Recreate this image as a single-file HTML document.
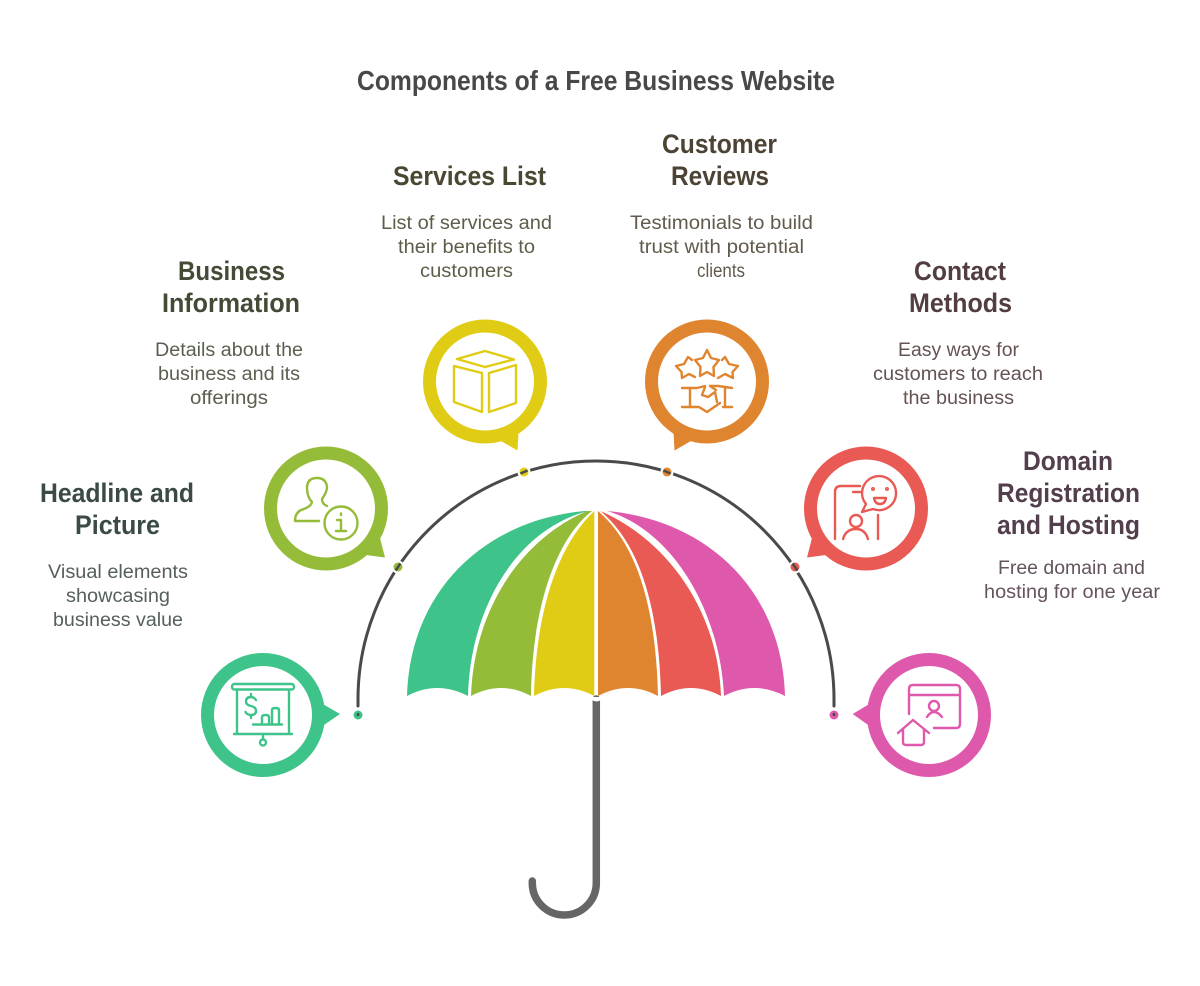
<!DOCTYPE html>
<html><head><meta charset="utf-8"><style>
html,body{margin:0;padding:0;background:#fff}
svg{display:block}
text{font-family:"Liberation Sans",sans-serif;text-anchor:middle}
.h{font-size:26.500px;font-weight:700}
.b{font-size:19px}
.i{fill:none;stroke-width:2.400;stroke-linecap:round;stroke-linejoin:round}
</style></head><body>
<svg width="1200" height="986" viewBox="0 0 1200 986" xmlns="http://www.w3.org/2000/svg">
<rect width="1200" height="986" fill="#fff"/>
<text x="596" y="90" font-size="27.500" font-weight="700" fill="#484848" textLength="478" lengthAdjust="spacingAndGlyphs">Components of a Free Business Website</text>

<g class="h" fill="#3b4a44">
<text x="117" y="502" textLength="154" lengthAdjust="spacingAndGlyphs">Headline and</text>
<text x="117.500" y="534" textLength="85" lengthAdjust="spacingAndGlyphs">Picture</text></g>
<g class="b" fill="#56605b">
<text x="118" y="578" textLength="140" lengthAdjust="spacingAndGlyphs">Visual elements</text>
<text x="118" y="602" textLength="104" lengthAdjust="spacingAndGlyphs">showcasing</text>
<text x="118" y="626" textLength="130" lengthAdjust="spacingAndGlyphs">business value</text></g>

<g class="h" fill="#434a36">
<text x="231.500" y="280" textLength="107" lengthAdjust="spacingAndGlyphs">Business</text>
<text x="231" y="312" textLength="138" lengthAdjust="spacingAndGlyphs">Information</text></g>
<g class="b" fill="#5a6050">
<text x="229" y="356" textLength="148" lengthAdjust="spacingAndGlyphs">Details about the</text>
<text x="229" y="380" textLength="142" lengthAdjust="spacingAndGlyphs">business and its</text>
<text x="229" y="404" textLength="78" lengthAdjust="spacingAndGlyphs">offerings</text></g>

<g class="h" fill="#4a4832">
<text x="469.500" y="185" textLength="153" lengthAdjust="spacingAndGlyphs">Services List</text></g>
<g class="b" fill="#5f5d4a">
<text x="466.500" y="229" textLength="171" lengthAdjust="spacingAndGlyphs">List of services and</text>
<text x="466.500" y="253" textLength="137" lengthAdjust="spacingAndGlyphs">their benefits to</text>
<text x="466.500" y="277" textLength="93" lengthAdjust="spacingAndGlyphs">customers</text></g>

<g class="h" fill="#4d4334">
<text x="719.500" y="153" textLength="115" lengthAdjust="spacingAndGlyphs">Customer</text>
<text x="720" y="185" textLength="98" lengthAdjust="spacingAndGlyphs">Reviews</text></g>
<g class="b" fill="#625a4c">
<text x="721.500" y="229" textLength="183" lengthAdjust="spacingAndGlyphs">Testimonials to build</text>
<text x="721.500" y="253" textLength="165" lengthAdjust="spacingAndGlyphs">trust with potential</text>
<text x="721" y="277" textLength="48" lengthAdjust="spacingAndGlyphs">clients</text></g>

<g class="h" fill="#523e3e">
<text x="960" y="280" textLength="92" lengthAdjust="spacingAndGlyphs">Contact</text>
<text x="960.500" y="312" textLength="103" lengthAdjust="spacingAndGlyphs">Methods</text></g>
<g class="b" fill="#655353">
<text x="958.500" y="356" textLength="121" lengthAdjust="spacingAndGlyphs">Easy ways for</text>
<text x="958" y="380" textLength="170" lengthAdjust="spacingAndGlyphs">customers to reach</text>
<text x="958.500" y="404" textLength="111" lengthAdjust="spacingAndGlyphs">the business</text></g>

<g class="h" fill="#523e4c">
<text x="1068" y="470" textLength="90" lengthAdjust="spacingAndGlyphs">Domain</text>
<text x="1068.500" y="502" textLength="143" lengthAdjust="spacingAndGlyphs">Registration</text>
<text x="1068.500" y="534" textLength="143" lengthAdjust="spacingAndGlyphs">and Hosting</text></g>
<g class="b" fill="#65535f">
<text x="1071.500" y="574" textLength="147" lengthAdjust="spacingAndGlyphs">Free domain and</text>
<text x="1072" y="598" textLength="176" lengthAdjust="spacingAndGlyphs">hosting for one year</text></g>

<!-- handle -->
<path d="M596.300 699V883A32 32 0 0 1 532.300 883V881" fill="none" stroke="#666" stroke-width="7.500" stroke-linecap="round"/>
<path d="M592 697h9v3q-4.500 3-9 0z" fill="#fff"/>

<!-- canopy -->
<path d="M407 696C410 590 485 520 585 511L588 511C515 530 470 610 468 696Q437 680 407 696Z" fill="#3ec48a"/>
<path d="M471 696C474 610 520 540 587 511L592 511C555 540 532 610 531 696Q501 680 471 696Z" fill="#94bc39"/>
<path d="M534 696C536 610 558 545 594.300 511V696Q564 680 534 696Z" fill="#e0cc15"/>
<path d="M598 511C638 545 656 610 658 696Q628 680 598 696Z" fill="#e0852f"/>
<path d="M600.500 511C667 540 718 610 721 696Q691 680 661 696C659 610 641 545 600.500 511Z" fill="#e85a53"/>
<path d="M607 511C672 530 720 610 724 696Q754 680 785 696C782 590 707 520 607 511Z" fill="#de59ac"/>

<!-- arc -->
<path d="M358 706V699A238 238 0 0 1 834 699V706" fill="none" stroke="#4a4a4a" stroke-width="3" stroke-linecap="round"/>
<g stroke="#fff" stroke-width="2">
<circle cx="398" cy="567" r="5.500" fill="#94bc39"/>
<circle cx="524" cy="472" r="5.500" fill="#e0cc15"/>
<circle cx="667" cy="472" r="5.500" fill="#e0852f"/>
<circle cx="795" cy="567" r="5.500" fill="#e85a53"/>
<circle cx="358" cy="715" r="5.500" fill="#3ec48a"/>
<circle cx="834" cy="715" r="5.500" fill="#de59ac"/>
</g>
<g stroke="#4a4a4a" stroke-width="2.500" fill="none">
<path d="M395.600 570.500L400.400 563.500"/>
<path d="M520.500 473.500L527.500 470.500"/>
<path d="M663.500 470.500L670.500 473.500"/>
<path d="M792.600 563.500L797.400 570.500"/>
<path d="M358 713V716"/>
<path d="M834 713V716"/>
</g>

<!-- bubbles -->
<g fill="none" stroke-width="13">
<circle cx="263" cy="715" r="55.500" stroke="#3ec48a"/>
<circle cx="326" cy="508.500" r="55.500" stroke="#94bc39"/>
<circle cx="485" cy="381.500" r="55.500" stroke="#e0cc15"/>
<circle cx="707" cy="381.500" r="55.500" stroke="#e0852f"/>
<circle cx="866" cy="508.500" r="55.500" stroke="#e85a53"/>
<circle cx="929" cy="715" r="55.500" stroke="#de59ac"/>
</g>
<path d="M321 703L340 714L321 727Z" fill="#3ec48a"/>
<path d="M380 538L385 557.500L366 555Z" fill="#94bc39"/>
<path d="M518.500 432L517.500 450.500L501 441Z" fill="#e0cc15"/>
<path d="M673.500 432L674.500 450.500L691 441Z" fill="#e0852f"/>
<path d="M812 538L807 557.500L826 555Z" fill="#e85a53"/>
<path d="M871 703L852.700 714L871 727Z" fill="#de59ac"/>

<!-- icon: presentation -->
<g class="i" stroke="#3ec48a">
<rect x="232" y="684" width="62" height="5.500" rx="2.500"/>
<path d="M237 690V734M289 690V734M234 734H292M263 735V739"/>
<circle cx="263" cy="742.500" r="3"/>
<path d="M256 700Q254 697 251 697Q246 697 246 701.500Q246 705 251 706Q256 707 256 711Q256 715 251 715Q247 715 245.500 712M251 694V697M251 715V718"/>
<path d="M262 723V717Q262 715 265.500 715Q269 715 269 717V723M272 723V710Q272 708 275.500 708Q279 708 279 710V723M253 724.500H282"/>
</g>
<!-- icon: person info -->
<g class="i" stroke="#94bc39">
<path d="M327 506Q322 504 322 499Q327 492 327 487Q326 478 317 478Q307 478 307 488Q307 497 312 502Q311 507 301 510Q295 513 295 521H319"/>
<circle cx="341" cy="523" r="16.500"/>
<path d="M337 520H341V531M336 531H346M341 513.500V515"/>
</g>
<!-- icon: box -->
<g class="i" stroke="#e0cc15">
<path d="M485 351L514 359.500L485 367L457 359Z"/>
<path d="M454 366L482 373V412L454 402Z"/>
<path d="M489 373L516 365V403L489 412Z"/>
</g>
<!-- icon: stars + handshake -->
<g class="i" stroke="#e0852f">
<path d="M707 350L711 358L719 360L713.500 367L714 376L707 372L700 376L700.500 367L695 360L703 358Z"/>
<path d="M696 353M692 360L688 357L684 364L676 366L681.500 372L682 378L689 374L695 377"/>
<path d="M722 360L725 357L729 364L738 366L732.500 372L733 378L725 374L718 378"/>
<path d="M682 388H697L705 386M710 386H718L732 388M690 388V407M725 388V407M682 407H692M723 407H732"/>
<path d="M692 407L699 407L707 412L720 403M705 387L702 395L708 397L715 392L717 402M710 386L716 390"/>
</g>
<!-- icon: phone + smile -->
<g class="i" stroke="#e85a53">
<path d="M835 539V492Q835 486 841 486H860M853 492H860M878 515V539"/>
<path d="M862 512L866 504A17 17 0 1 1 873 509Z"/>
<circle cx="873" cy="489" r=".8"/><circle cx="887" cy="489" r=".8"/>
<path d="M874 498H886Q885 504 880 504Q875 504 874 498Z"/>
<circle cx="856" cy="521" r="6"/>
<path d="M843 539Q846 529 856 529Q865 529 868 539"/>
</g>
<!-- icon: window + home -->
<g class="i" stroke="#de59ac">
<path d="M909 714V689Q909 685 913 685H956Q960 685 960 689V724Q960 728 956 728H934M909 695H960"/>
<circle cx="934" cy="706" r="5"/>
<path d="M927 717Q930 712 934 712Q938 712 942 717"/>
<path d="M898 733L913 720L929 733M903 730V742Q903 745 906 745H921Q924 745 924 742V730"/>
</g>
</svg>
</body></html>
